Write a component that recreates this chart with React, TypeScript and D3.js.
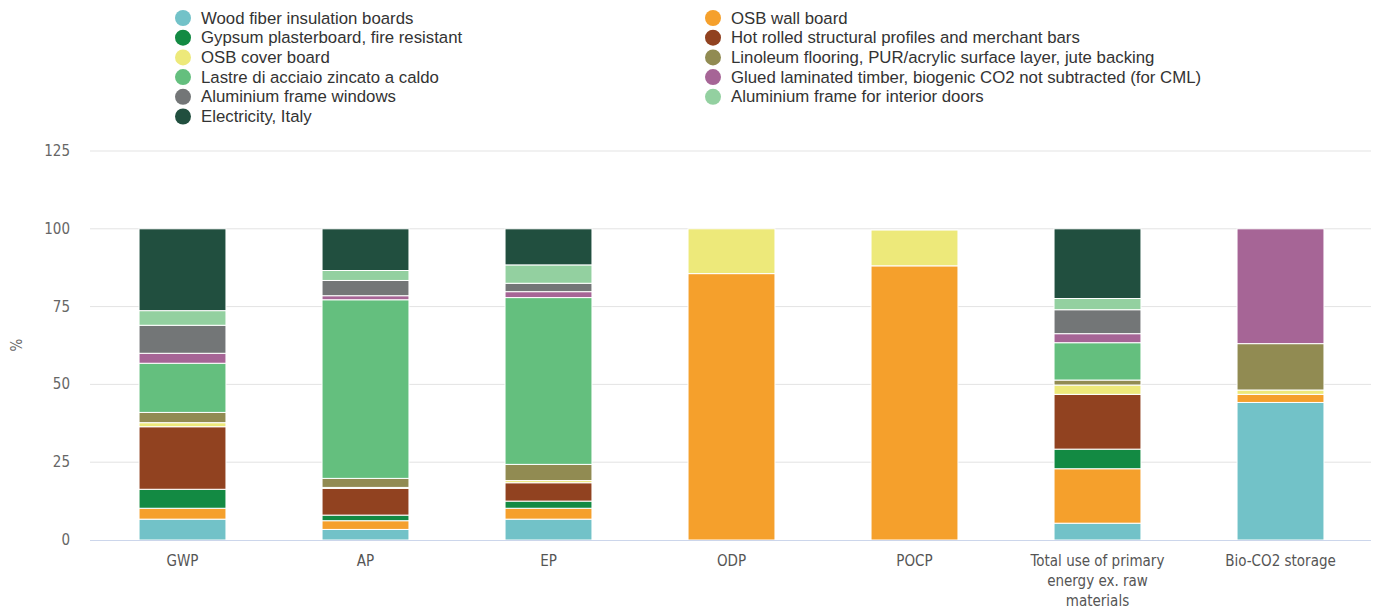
import React from "react";
import * as d3 from "d3";

const categories = ["GWP", "AP", "EP", "ODP", "POCP", "Total use of primary energy ex. raw materials", "Bio-CO2 storage"];
const categoryLines = [["GWP"], ["AP"], ["EP"], ["ODP"], ["POCP"], ["Total use of primary", "energy ex. raw", "materials"], ["Bio-CO2 storage"]];

const seriesNames = [
  "Wood fiber insulation boards",
  "OSB wall board",
  "Gypsum plasterboard, fire resistant",
  "Hot rolled structural profiles and merchant bars",
  "OSB cover board",
  "Linoleum flooring, PUR/acrylic surface layer, jute backing",
  "Lastre di acciaio zincato a caldo",
  "Glued laminated timber, biogenic CO2 not subtracted (for CML)",
  "Aluminium frame windows",
  "Aluminium frame for interior doors",
  "Electricity, Italy",
];
const seriesColors = ["#72c2c8", "#f5a02c", "#138a43", "#914220", "#ede97a", "#918b52", "#64bf7e", "#a66596", "#737677", "#93d0a0", "#214f3f"];

// values per series, in category order
const woodFiber = [6.7, 3.4, 6.7, 0, 0, 5.4, 44.2];
const osbWall = [3.5, 2.8, 3.5, 85.6, 88.1, 17.5, 2.6];
const gypsum = [6.1, 1.8, 2.3, 0, 0, 6.3, 0];
const hotRolled = [20.1, 8.6, 5.9, 0, 0, 17.6, 0];
const osbCover = [1.3, 0.3, 0.7, 14.4, 11.5, 3.0, 1.4];
const linoleum = [3.3, 2.9, 5.2, 0, 0, 1.6, 14.9];
const lastre = [15.8, 57.4, 53.6, 0, 0, 12.0, 0];
const glulam = [3.2, 1.3, 1.9, 0, 0, 2.9, 36.9];
const alWindows = [9.0, 4.9, 2.7, 0, 0, 7.7, 0];
const alDoors = [4.7, 3.2, 5.9, 0, 0, 3.6, 0];
const electricity = [26.3, 13.4, 11.6, 0, 0, 22.4, 0];

const seriesValues = [woodFiber, osbWall, gypsum, hotRolled, osbCover, linoleum, lastre, glulam, alWindows, alDoors, electricity];
const yTicks = [0, 25, 50, 75, 100, 125];

export default function App() {
  const W = 1383, H = 609;
  const left = 90, right = 1371, top = 151, bottom = 540;
  const x = d3.scaleBand<number>().domain(d3.range(categories.length)).range([left + 1, right + 1]).paddingInner(0.525).paddingOuter(0.2625);
  const y = d3.scaleLinear().domain([0, 125]).range([bottom, top]);

  const rows = categories.map((_, ci) => {
    const r: any = { i: ci };
    seriesValues.forEach((s, si) => (r["s" + si] = s[ci]));
    return r;
  });
  const stack = d3.stack<any>().keys(seriesNames.map((_, i) => "s" + i));
  const stacked = stack(rows);

  const font = "'Liberation Sans', Arial, sans-serif";
  const condFont = "'DejaVu Sans Condensed', 'Open Sans', sans-serif";

  return (
    <svg width={W} height={H} style={{ position: "absolute", left: 0, top: 0, background: "#fff" }}>
      {/* legend */}
      {seriesNames.map((n, i) => {
        const col = i % 2;
        const row = Math.floor(i / 2);
        const cx = col === 0 ? 183 : 713;
        const cy = 18 + row * 19.7;
        return (
          <g key={n}>
            <circle cx={cx} cy={cy} r={8} fill={seriesColors[i]} />
            <text x={cx + 18} y={cy + 5.5} fontFamily={font} fontSize={16.8} fill="#333">{n}</text>
          </g>
        );
      })}
      {/* grid */}
      {yTicks.map((t) => (
        <g key={t}>
          {t > 0 && <line x1={left} x2={right} y1={y(t)} y2={y(t)} stroke="#e3e3e3" strokeWidth={1} />}
          <text x={70} y={y(t) + 5} textAnchor="end" fontFamily={condFont} fontSize={15} fill="#666">{t}</text>
        </g>
      ))}
      <text transform={`translate(22,${345}) rotate(-90)`} textAnchor="middle" fontFamily={condFont} fontSize={15} fill="#666">%</text>
      {/* bars */}
      {stacked.map((layer, si) => (
        <g key={si} fill={seriesColors[si]}>
          {layer.map((d, ci) => {
            const h = y(d[0]) - y(d[1]);
            if (h <= 0) return null;
            return <rect key={ci} x={x(ci)} y={y(d[1])} width={x.bandwidth()} height={h} stroke="#fff" strokeWidth={1} />;
          })}
        </g>
      ))}
      <line x1={left} x2={right} y1={bottom + 0.5} y2={bottom + 0.5} stroke="#ccd6eb" strokeWidth={1} />
      {/* x labels */}
      {categoryLines.map((lines, ci) => (
        <text key={ci} textAnchor="middle" fontFamily={condFont} fontSize={15} fill="#555">
          {lines.map((l, li) => (
            <tspan key={li} x={(x(ci) as number) + x.bandwidth() / 2} y={566 + li * 20}>{l}</tspan>
          ))}
        </text>
      ))}
    </svg>
  );
}
